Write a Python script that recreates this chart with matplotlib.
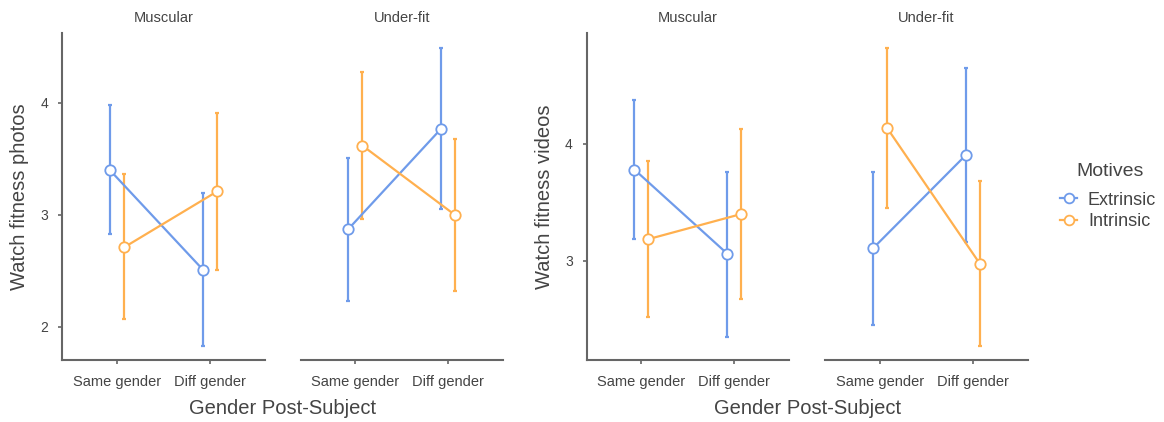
import matplotlib
matplotlib.use("Agg")
import matplotlib.pyplot as plt
from matplotlib.lines import Line2D

categories = ["Same gender", "Diff gender"]
facets = ["Muscular", "Under-fit"]
motives = ["Extrinsic", "Intrinsic"]

# Watch fitness photos: [facet][motive] -> means / lower / upper per category
photos_mean = {
    "Muscular": {"Extrinsic": [3.40, 2.51], "Intrinsic": [2.71, 3.21]},
    "Under-fit": {"Extrinsic": [2.875, 3.77], "Intrinsic": [3.62, 3.00]},
}
photos_low = {
    "Muscular": {"Extrinsic": [2.83, 1.83], "Intrinsic": [2.07, 2.51]},
    "Under-fit": {"Extrinsic": [2.23, 3.05], "Intrinsic": [2.96, 2.32]},
}
photos_high = {
    "Muscular": {"Extrinsic": [3.98, 3.20], "Intrinsic": [3.37, 3.91]},
    "Under-fit": {"Extrinsic": [3.51, 4.49], "Intrinsic": [4.28, 3.68]},
}

videos_mean = {
    "Muscular": {"Extrinsic": [3.78, 3.06], "Intrinsic": [3.185, 3.40]},
    "Under-fit": {"Extrinsic": [3.105, 3.905], "Intrinsic": [4.14, 2.975]},
}
videos_low = {
    "Muscular": {"Extrinsic": [3.19, 2.35], "Intrinsic": [2.52, 2.67]},
    "Under-fit": {"Extrinsic": [2.45, 3.16], "Intrinsic": [3.45, 2.27]},
}
videos_high = {
    "Muscular": {"Extrinsic": [4.38, 3.76], "Intrinsic": [3.85, 4.13]},
    "Under-fit": {"Extrinsic": [3.76, 4.65], "Intrinsic": [4.825, 3.68]},
}

colors = {"Extrinsic": "#6F9BEA", "Intrinsic": "#FFB04F"}
offsets = {"Extrinsic": -0.075, "Intrinsic": 0.075}

W, H = 1164, 422
fig = plt.figure(figsize=(W / 100, H / 100), dpi=100)
plt.rcParams["font.family"] = ["Liberation Sans", "DejaVu Sans"]

text_col = "#444444"
spine_col = "#666666"


def make_ax(x0, x1, y0=33, y1=360):
    return fig.add_axes([x0 / W, (H - y1) / H, (x1 - x0) / W, (y1 - y0) / H])


def draw_panel(ax, means, lows, highs, facet, ylim, yticks, show_y):
    for m in motives:
        xs = [i + 1 + offsets[m] for i in range(len(categories))]
        mu = means[facet][m]
        lo = lows[facet][m]
        hi = highs[facet][m]
        yerr = [[a - b for a, b in zip(mu, lo)], [b - a for a, b in zip(mu, hi)]]
        ax.errorbar(xs, mu, yerr=yerr, fmt="none", ecolor=colors[m], elinewidth=1.6,
                    capsize=1.5, capthick=1.6, zorder=2)
        ax.plot(xs, mu, color=colors[m], lw=1.6, zorder=3)
        ax.plot(xs, mu, "o", ms=7.5, mfc="white", mec=colors[m], mew=1.3, zorder=4)
    ax.set_xlim(0.41, 2.59)
    ax.set_ylim(*ylim)
    ax.set_xticks([1, 2])
    ax.set_xticklabels(categories, fontsize=10.5, color=text_col)
    ax.tick_params(axis="x", length=3, width=1.2, color=spine_col, pad=8)
    for s in ["top", "right"]:
        ax.spines[s].set_visible(False)
    ax.spines["bottom"].set_color(spine_col)
    ax.spines["bottom"].set_linewidth(1.5)
    if show_y:
        ax.set_yticks(yticks)
        ax.set_yticklabels([str(t) for t in yticks], fontsize=10, color=text_col)
        ax.tick_params(axis="y", length=3, width=1.2, color=spine_col, pad=7)
        ax.spines["left"].set_color(spine_col)
        ax.spines["left"].set_linewidth(1.5)
    else:
        ax.spines["left"].set_visible(False)
        ax.set_yticks([])
    ax.set_title(facet, fontsize=10.5, color=text_col, pad=8)
    ax.patch.set_alpha(0)


ax1 = make_ax(62, 265)
ax2 = make_ax(300.7, 502.7)
ax3 = make_ax(586.7, 789)
ax4 = make_ax(825, 1027.7)

ylim_p = (1.705, 4.625)
ylim_v = (2.15, 4.95)
draw_panel(ax1, photos_mean, photos_low, photos_high, "Muscular", ylim_p, [2, 3, 4], True)
draw_panel(ax2, photos_mean, photos_low, photos_high, "Under-fit", ylim_p, [2, 3, 4], False)
draw_panel(ax3, videos_mean, videos_low, videos_high, "Muscular", ylim_v, [3, 4], True)
draw_panel(ax4, videos_mean, videos_low, videos_high, "Under-fit", ylim_v, [3, 4], False)

ax1.set_ylabel("Watch fitness photos", fontsize=14.5, color=text_col, labelpad=8)
ax3.set_ylabel("Watch fitness videos", fontsize=14.5, color=text_col, labelpad=8)

fig.text(283 / W, 1 - 408 / H, "Gender Post-Subject", fontsize=14.5, color=text_col,
         ha="center", va="center")
fig.text(808 / W, 1 - 408 / H, "Gender Post-Subject", fontsize=14.5, color=text_col,
         ha="center", va="center")

fig.text(1110 / W, 1 - 172 / H, "Motives", fontsize=14, color=text_col,
         ha="center", va="center")
handles = [Line2D([0], [0], color=colors[m], lw=1.6, marker="o", ms=7, mfc="white",
                  mec=colors[m], mew=1.3) for m in motives]
leg = fig.legend(handles, motives, loc="center left", bbox_to_anchor=(1060 / W, 1 - 211 / H),
                 frameon=False, fontsize=13, borderpad=0, borderaxespad=0,
                 handlelength=0.95, handletextpad=0.6, labelspacing=0.25)
for t in leg.get_texts():
    t.set_color(text_col)

fig.savefig("out.png", dpi=100)
